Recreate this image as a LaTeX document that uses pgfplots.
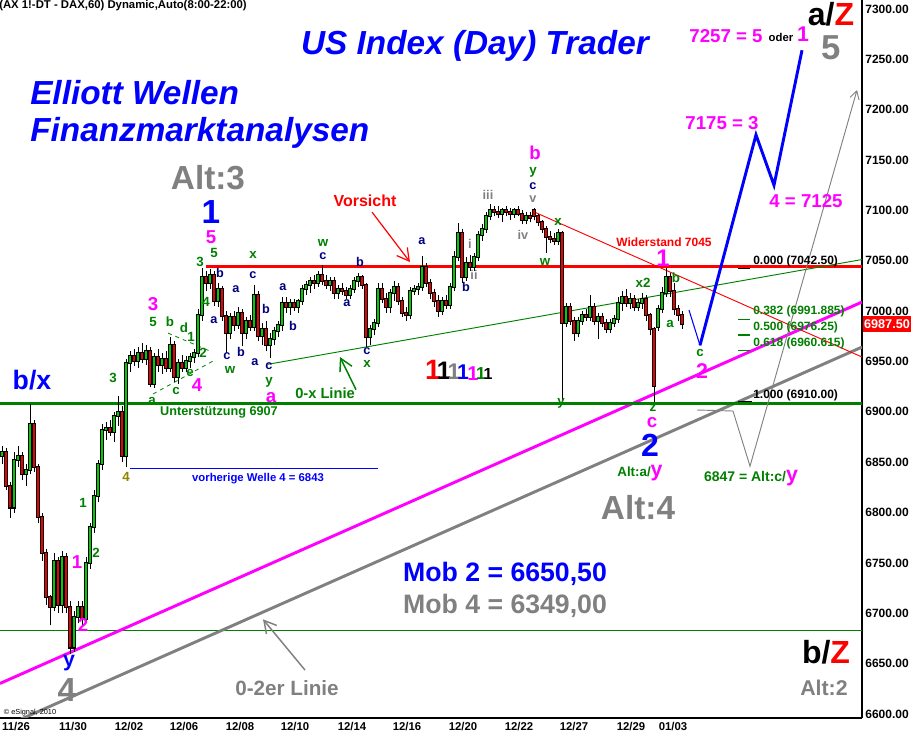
\documentclass[border=0pt]{standalone}
\usepackage{pgfplots}
\pgfplotsset{compat=1.18}
\usepackage{pgfplotstable}
\usetikzlibrary{arrows.meta}
\usepackage{fontspec}
\setmainfont{Liberation Sans}
\definecolor{cup}{RGB}{0,205,0}
\definecolor{cdn}{RGB}{235,0,0}
\definecolor{lg}{RGB}{0,128,0}
\definecolor{navy}{RGB}{0,0,128}
\definecolor{mag}{RGB}{255,0,255}
\definecolor{gr}{RGB}{128,128,128}
\newcommand{\fsz}[1]{\fontsize{#1}{#1}\selectfont}
\pgfplotstableread{
x o h l c
2 6856 6866 6848 6860
6 6860 6864 6822 6826
10 6826 6830 6795 6805
14 6805 6860 6800 6852
18 6852 6866 6845 6856
22 6856 6860 6832 6838
26 6838 6848 6826 6842
30 6842 6908 6838 6888
34 6888 6892 6840 6845
38 6845 6848 6790 6796
42 6796 6800 6752 6760
46 6760 6764 6708 6716
50 6716 6718 6688 6706
54 6706 6760 6702 6752
58 6752 6756 6700 6708
62 6708 6762 6700 6756
66 6756 6760 6700 6706
70 6706 6712 6660 6666
74 6666 6702 6662 6696
78 6696 6712 6690 6706
82 6706 6712 6688 6694
86 6694 6756 6690 6750
90 6750 6790 6744 6786
94 6786 6822 6780 6816
98 6816 6852 6810 6848
102 6848 6888 6842 6882
106 6882 6890 6872 6884
110 6884 6892 6876 6880
114 6880 6900 6870 6896
118 6896 6916 6886 6900
122 6900 6906 6850 6856
126 6856 6952 6845 6948
130 6948 6960 6940 6955
134 6955 6962 6945 6950
138 6950 6964 6944 6958
142 6958 6968 6948 6952
146 6952 6966 6946 6960
150 6960 6964 6925 6928
154 6928 6958 6924 6954
158 6954 6962 6940 6946
162 6946 6958 6938 6952
166 6952 6960 6940 6944
170 6944 6974 6940 6966
174 6966 6970 6930 6935
178 6935 6952 6928 6948
182 6948 6956 6940 6944
186 6944 6955 6940 6950
190 6950 6958 6944 6954
194 6954 6962 6948 6958
198 6958 7002 6954 6996
202 6996 7043 6990 7034
206 7034 7040 7020 7028
210 7028 7042 7022 7036
214 7036 7040 7005 7010
218 7010 7028 7004 7022
222 7022 7025 6990 6995
226 6995 7000 6958 6978
230 6978 6998 6972 6994
234 6994 7000 6980 6986
238 6986 7004 6982 6998
242 6998 7002 6965 6978
246 6978 6994 6972 6990
250 6990 6996 6980 6984
254 6984 7026 6980 7016
258 7016 7020 6970 6975
262 6975 6988 6966 6982
266 6982 6990 6960 6966
270 6966 6978 6953 6972
274 6972 6984 6966 6980
278 6980 6990 6974 6986
282 6986 7014 6980 7008
286 7008 7014 6998 7004
290 7004 7012 6996 7008
294 7008 7012 7000 7004
298 7004 7012 6998 7010
302 7010 7026 7006 7022
306 7022 7030 7016 7026
310 7026 7034 7018 7030
314 7030 7036 7022 7028
318 7028 7040 7024 7036
322 7036 7046 7026 7030
326 7030 7036 7022 7026
330 7026 7034 7020 7030
334 7030 7034 7012 7018
338 7018 7026 7012 7022
342 7022 7028 7016 7020
346 7020 7024 7012 7016
350 7016 7026 7012 7022
354 7022 7034 7018 7030
358 7030 7038 7024 7034
362 7034 7036 7022 7026
366 7026 7028 6964 6974
370 6974 6986 6966 6982
374 6982 6992 6976 6988
378 6988 7028 6984 7022
382 7022 7028 7008 7012
386 7012 7018 6998 7004
390 7004 7022 6998 7018
394 7018 7030 7010 7024
398 7024 7028 7006 7010
402 7010 7014 6994 6998
406 6998 7004 6990 6996
410 6996 7024 6992 7020
414 7020 7026 7016 7022
418 7022 7028 7016 7024
422 7024 7055 7020 7044
426 7044 7048 7024 7028
430 7028 7032 7012 7018
434 7018 7022 7004 7010
438 7010 7016 6994 7000
442 7000 7014 6996 7010
446 7010 7016 7002 7006
450 7006 7028 7002 7024
454 7024 7060 7020 7054
458 7054 7087 7050 7078
462 7078 7082 7028 7034
466 7034 7054 7030 7048
470 7048 7056 7040 7044
474 7044 7058 7040 7054
478 7054 7080 7050 7076
482 7076 7086 7070 7082
486 7082 7098 7078 7094
490 7094 7106 7090 7100
494 7100 7104 7094 7098
498 7098 7104 7092 7096
502 7096 7102 7088 7100
506 7100 7104 7094 7098
510 7098 7102 7090 7096
514 7096 7102 7092 7100
518 7100 7104 7094 7096
522 7096 7100 7086 7090
526 7090 7098 7086 7094
530 7094 7098 7088 7092
534 7100 7102 7090 7094
538 7094 7096 7084 7088
542 7088 7090 7078 7082
546 7082 7084 7058 7074
550 7074 7080 7068 7072
554 7072 7078 7066 7070
558 7070 7082 7066 7078
562 7078 7080 6912 6988
566 6988 7008 6984 7004
570 7004 7008 6986 6990
574 6990 6994 6970 6978
578 6978 6994 6974 6990
582 6990 7000 6986 6996
586 6996 7002 6990 6994
590 6994 7016 6990 7004
594 7004 7008 6986 6990
598 6990 6998 6972 6994
602 6994 6998 6984 6988
606 6988 6992 6978 6982
610 6982 6992 6978 6988
614 6988 6996 6984 6992
618 6992 7014 6988 7008
622 7008 7020 7000 7014
626 7014 7022 7004 7008
630 7008 7018 7002 7012
634 7012 7016 7000 7004
638 7004 7012 7000 7008
642 7008 7018 7002 7012
646 7012 7016 6990 6996
650 6996 6998 6976 6982
654 6982 6984 6910 6926
658 6984 7006 6980 7002
662 7002 7024 6998 7018
666 7018 7043 7014 7034
670 7034 7038 7014 7020
674 7020 7028 6996 7002
678 7002 7006 6990 6996
682 6996 7000 6982 6987.5
}\candles
\tikzset{
 g/.style={text=lg, font=\bfseries\fsz{10}, inner sep=0pt},
 n/.style={text=navy, font=\bfseries\fsz{9.5}, inner sep=0pt},
 gi/.style={text=gr, font=\bfseries\fsz{9.5}, inner sep=0pt},
 m/.style={text=mag, font=\bfseries\fsz{14}, inner sep=0pt},
}
\begin{document}
\begin{tikzpicture}
\path[use as bounding box] (0,-12.75pt) rectangle (683.25pt,538.5pt);
\begin{axis}[at={(0pt,0pt)}, anchor=south west, scale only axis,
 width=646.5pt, height=538.5pt,
 xmin=0, xmax=862, ymin=6596, ymax=7308.9,
 axis x line=bottom, axis y line=right,
 axis line style={-, black, line width=0.9pt},
 clip mode=individual,
 major tick length=0pt,
 ytick={6600,6650,...,7300},
 yticklabel style={font=\bfseries\fsz{9}, anchor=west, xshift=-1pt,
   /pgf/number format/.cd, fixed, fixed zerofill, precision=2, 1000 sep={}, assume math mode=true},
 xtick={16,73,129,184,240,295,352,407,463,519,574,631,673},
 xticklabels={11/26,11/30,12/02,12/06,12/08,12/10,12/14,12/16,12/20,12/22,12/27,12/29,01/03},
 xticklabel style={font=\bfseries\fsz{8.5}, anchor=north, yshift=0pt},
]
% reference lines
\addplot[lg, line width=1.1pt] coordinates {(0,6683) (862,6683)};
\addplot[blue, line width=0.8pt] coordinates {(130,6844) (378,6844)};
\addplot[gr, line width=2.2pt] coordinates {(0,6585.6) (862,6964.3)};
\addplot[mag, line width=2.2pt] coordinates {(0,6630.3) (862,7009)};
\addplot[lg, line width=2.2pt] coordinates {(0,6908) (862,6908)};
\addplot[red, line width=2.2pt] coordinates {(206,7044) (862,7044)};
\addplot[lg, line width=0.7pt] coordinates {(268,6947.2) (862,7051.2)};
\addplot[red, line width=0.7pt] coordinates {(532,7099.4) (862,6954.4)};
\addplot[lg, line width=0.6pt, dashed] coordinates {(168,6978.2) (212,6959.4)};
\addplot[lg, line width=0.6pt, dashed] coordinates {(153,6917.7) (213,6950.4)};
% candles
\addplot[draw=none, error bars/.cd, y dir=plus, y explicit, error mark=none,
  error bar style={draw=black, solid, line width=0.75pt}]
  table[x=x, y=l, y error plus expr=\thisrow{h}-\thisrow{l}] \candles;
\addplot[draw=none, restrict y to domain=6000:8000, error bars/.cd, y dir=plus, y explicit, error mark=none,
  error bar style={draw=black, solid, line width=2.4pt}]
  table[x=x, y expr={\thisrow{c}>=\thisrow{o} ? \thisrow{o}-1 : 0}, y error plus expr=\thisrow{c}-\thisrow{o}+2] \candles;
\addplot[draw=none, restrict y to domain=6000:8000, error bars/.cd, y dir=plus, y explicit, error mark=none,
  error bar style={draw=black, solid, line width=2.4pt}]
  table[x=x, y expr={\thisrow{c}<\thisrow{o} ? \thisrow{c}-1 : 0}, y error plus expr=\thisrow{o}-\thisrow{c}+2] \candles;
\addplot[draw=none, restrict y to domain=6000:8000, error bars/.cd, y dir=plus, y explicit, error mark=none,
  error bar style={draw=cup, solid, line width=1.2pt}]
  table[x=x, y expr={\thisrow{c}>=\thisrow{o} ? \thisrow{o} : 0}, y error plus expr=\thisrow{c}-\thisrow{o}] \candles;
\addplot[draw=none, restrict y to domain=6000:8000, error bars/.cd, y dir=plus, y explicit, error mark=none,
  error bar style={draw=cdn, solid, line width=1.2pt}]
  table[x=x, y expr={\thisrow{c}<\thisrow{o} ? \thisrow{c} : 0}, y error plus expr=\thisrow{o}-\thisrow{c}] \candles;
% forecasts
\addplot[blue, line width=0.8pt] coordinates {(689,7001) (700,6966)};
\addplot[blue, line width=2.2pt] coordinates {(700,6966) (756,7175) (774,7125) (802,7259)};
\addplot[gr, line width=0.7pt, -{Straight Barb[length=6pt,width=7pt]}] coordinates {(697,6901.8) (733,6900.8) (750,6846) (857,7219.5)};
% fib dashes
\addplot[black, line width=0.8pt] coordinates {(738,7042.5) (750,7042.5)};
\addplot[lg, line width=0.8pt] coordinates {(738,6991.9) (750,6991.9)};
\addplot[lg, line width=0.8pt] coordinates {(738,6976.3) (750,6976.3)};
\addplot[lg, line width=0.8pt] coordinates {(738,6960.6) (750,6960.6)};
\addplot[black, line width=0.8pt] coordinates {(738,6910) (752,6910)};
% arrows
\addplot[red, line width=0.9pt, -{Straight Barb[length=9pt,width=10pt]}] coordinates {(372,7098.3) (410,7048.7)};
\addplot[lg, line width=1.1pt, -{Straight Barb[length=9pt,width=10pt]}] coordinates {(356,6922) (340,6954.4)};
\addplot[gr, line width=1.1pt, -{Straight Barb[length=9pt,width=10pt]}] coordinates {(305,6643.6) (263,6694)};
\end{axis}
\begin{scope}[x=0.75pt, y=-0.75pt, shift={(0pt,538.5pt)}]
\node[anchor=west, inner sep=0pt, font=\bfseries\fsz{8.5}] at (-1,6) {(AX 1!-DT - DAX,60) Dynamic,Auto(8:00-22:00)};
\node[text=blue, font=\bfseries\itshape\fsz{25}, inner sep=0pt] at (475,46) {US Index (Day) Trader};
\node[anchor=west, text=blue, font=\bfseries\itshape\fsz{25}, inner sep=0pt] at (30,93) {Elliott Wellen};
\node[anchor=west, text=blue, font=\bfseries\itshape\fsz{25}, inner sep=0pt] at (30,133) {Finanzmarktanalysen};
\node[text=gr, font=\bfseries\fsz{25}, inner sep=0pt] at (208,178) {Alt:3};
\node[text=blue, font=\bfseries\fsz{25}, inner sep=0pt] at (211,212) {1};
\node[m] at (211,237) {5};
\node[g] at (214,253) {5};
\node[g] at (200,262) {3};
\node[g] at (206,302) {4};
\node[n] at (220,273) {b};
\node[n] at (236,289) {a};
\node[n] at (214,320) {a};
\node[n] at (227,356) {c};
\node[g] at (230,370) {w};
\node[n] at (241,352) {b};
\node[m] at (153,304) {3};
\node[g] at (153,322) {5};
\node[g] at (170,322) {b};
\node[g] at (184,328) {d};
\node[g] at (191,337) {1};
\node[g] at (203,353) {2};
\node[g] at (190,373) {e};
\node[m] at (197,385) {4};
\node[g] at (176,391) {c};
\node[g] at (152,401) {a};
\node[g] at (113,378) {3};
\node[text=olive, font=\bfseries\fsz{10}, inner sep=0pt] at (126,477) {4};
\node[g] at (83,503) {1};
\node[g] at (96,553) {2};
\node[m] at (77,562) {1};
\node[m] at (83,625) {2};
\node[text=blue, font=\bfseries\fsz{16}, inner sep=0pt] at (69,663) {y};
\node[text=blue, font=\bfseries\fsz{20}, inner sep=0pt] at (32,380) {b/x};
\node[text=gr, font=\bfseries\fsz{25}, inner sep=0pt] at (67,690) {4};
\node[text=lg, font=\bfseries\fsz{9.5}, inner sep=0pt] at (219,412) {Unterstützung 6907};
\node[text=blue, font=\bfseries\fsz{8.5}, inner sep=0pt] at (258,479) {vorherige Welle 4 = 6843};
\node[g] at (253,255) {x};
\node[n] at (253,275) {c};
\node[n] at (266,309) {b};
\node[n] at (255,362) {a};
\node[n] at (269,366) {c};
\node[g] at (269,382) {y};
\node[n] at (283,287) {a};
\node[n] at (293,326) {b};
\node[g] at (323,243) {w};
\node[n] at (323,256) {c};
\node[n] at (360,262) {b};
\node[n] at (347,303) {a};
\node[n] at (367,351) {c};
\node[g] at (367,364) {x};
\node[m] at (271,398) {a};
\node[n] at (422,241) {a};
\node[n] at (466,287) {b};
\node[gi] at (470,244) {i};
\node[gi] at (474,275) {ii};
\node[gi] at (488,195) {iii};
\node[gi] at (523,235) {iv};
\node[gi] at (533,199) {v};
\node[n] at (533,186) {c};
\node[g] at (533,172) {y};
\node[m] at (535,153) {b};
\node[g] at (545,262) {w};
\node[g] at (558,222) {x};
\node[text=red, font=\bfseries\fsz{12}, inner sep=0pt] at (365,201) {Vorsicht};
\node[text=lg, font=\bfseries\fsz{11}, inner sep=0pt] at (325,393) {0-x Linie};
\node[anchor=base, text=red, font=\bfseries\fsz{21}, inner sep=0pt] at (433,380) {1};
\node[anchor=base, text=black, font=\bfseries\fsz{19}, inner sep=0pt] at (444,380) {1};
\node[anchor=base, text=gr, font=\bfseries\fsz{17}, inner sep=0pt] at (454,380) {1};
\node[anchor=base, text=blue, font=\bfseries\fsz{16}, inner sep=0pt] at (463,380) {1};
\node[anchor=base, text=mag, font=\bfseries\fsz{15}, inner sep=0pt] at (473,381) {1};
\node[anchor=base, text=lg, font=\bfseries\fsz{13}, inner sep=0pt] at (481,380) {1};
\node[anchor=base, text=black, font=\bfseries\fsz{12}, inner sep=0pt] at (488,380) {1};
\node[text=red, font=\bfseries\fsz{9}, inner sep=0pt] at (664,242) {Widerstand 7045};
\node[text=mag, font=\bfseries\fsz{18}, inner sep=0pt] at (663,258) {1};
\node[g] at (643,283) {x2};
\node[g] at (676,278) {b};
\node[g] at (670,324) {a};
\node[g] at (561,403) {y};
\node[g] at (653,408) {z};
\node[m] at (652,423) {c};
\node[text=blue, font=\bfseries\fsz{24}, inner sep=0pt] at (650,445) {2};
\node[g] at (700,353) {c};
\node[text=mag, font=\bfseries\fsz{16}, inner sep=0pt] at (702,371) {2};
\node[anchor=west, font=\bfseries\fsz{9}, inner sep=0pt] at (753,261) {0.000 (7042.50)};
\node[anchor=west, text=lg, font=\bfseries\fsz{9}, inner sep=0pt] at (753,311) {0.382 (6991.885)};
\node[anchor=west, text=lg, font=\bfseries\fsz{9}, inner sep=0pt] at (753,327) {0.500 (6976.25)};
\node[anchor=west, text=lg, font=\bfseries\fsz{9}, inner sep=0pt] at (753,343) {0.618 (6960.615)};
\node[anchor=west, font=\bfseries\fsz{9}, inner sep=0pt] at (753,395) {1.000 (6910.00)};
\node[anchor=base, inner sep=0pt, font=\bfseries\fsz{10}] at (640,477) {\textcolor{lg}{Alt:a/}\textcolor{mag}{\fsz{16}y}};
\node[anchor=base, inner sep=0pt, font=\bfseries\fsz{10.5}] at (751,482) {\textcolor{lg}{6847 = Alt:c/}\textcolor{mag}{\fsz{16}y}};
\node[text=gr, font=\bfseries\fsz{25}, inner sep=0pt] at (638,508) {Alt:4};
\node[text=blue, font=\bfseries\fsz{20}, inner sep=0pt] at (505,574) {Mob 2 = 6650,50};
\node[text=gr, font=\bfseries\fsz{20}, inner sep=0pt] at (505,606) {Mob 4 = 6349,00};
\node[text=gr, font=\bfseries\fsz{15.5}, inner sep=0pt] at (287,688) {0-2er Linie};
\node[font=\bfseries\fsz{24}, inner sep=0pt] at (826,652) {b/\textcolor{red}{Z}};
\node[text=gr, font=\bfseries\fsz{16}, inner sep=0pt] at (824,688) {Alt:2};
\node[font=\bfseries\fsz{24}, inner sep=0pt] at (831,14) {a/\textcolor{red}{Z}};
\node[text=gr, font=\bfseries\fsz{26}, inner sep=0pt] at (831,48) {5};
\node[text=mag, font=\bfseries\fsz{14}, inner sep=0pt] at (726,36) {7257 = 5};
\node[font=\bfseries\fsz{8.5}, inner sep=0pt] at (781,37) {oder};
\node[text=mag, font=\bfseries\fsz{16}, inner sep=0pt] at (803,34) {1};
\node[text=mag, font=\bfseries\fsz{14}, inner sep=0pt] at (722,123) {7175 = 3};
\node[text=mag, font=\bfseries\fsz{14}, inner sep=0pt] at (806,201) {4 = 7125};
\node[font=\fsz{5.5}, inner sep=0pt] at (30,713) {© eSignal, 2010};
\node[fill=red, text=white, font=\bfseries\fsz{9.5}, inner sep=1pt, minimum width=36.5pt, minimum height=11.5pt] at (887,324) {6987.50};
\end{scope}
\end{tikzpicture}
\end{document}
